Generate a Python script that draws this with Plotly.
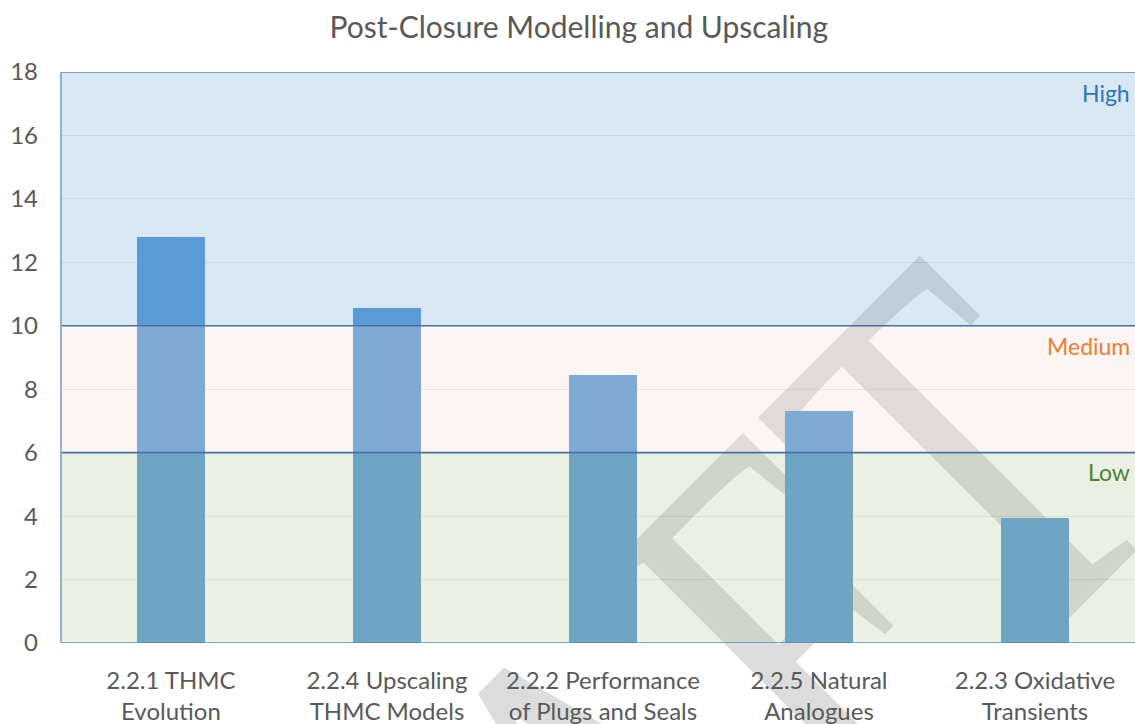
import base64
import plotly.graph_objects as go

# ---- data ----
categories = [
    "2.2.1 THMC<br>Evolution",
    "2.2.4 Upscaling<br>THMC Models",
    "2.2.2 Performance<br>of Plugs and Seals",
    "2.2.5 Natural<br>Analogues",
    "2.2.3 Oxidative<br>Transients",
]
scores = [12.8, 10.55, 8.45, 7.3, 3.95]
band_names = ["Low", "Medium", "High"]
band_lower = [0, 6, 10]
band_upper = [6, 10, 18]
band_label_pos = [5.4, 9.35, 17.35]
y_ticks = [0, 2, 4, 6, 8, 10, 12, 14, 16, 18]
title_text = "Post-Closure Modelling and Upscaling"
watermark_text = "DRAFT"

# ---- styles ----
FONT = "Lato"
TXT = "#595959"
BAR = "#5B9BD5"
band_fill = ["rgba(168,197,138,0.24)", "rgba(238,218,205,0.24)", "rgba(91,155,213,0.23)"]
band_layer = ["above", "above", "below"]
band_text_col = ["#548235", "#ED7D31", "#2E75B6"]

W, H = 1135, 724
L, T, B = 61, 72, 81
pw, ph = W - L, H - T - B

fig = go.Figure()
fig.add_trace(go.Bar(x=list(range(len(categories))), y=scores, width=0.315,
                     marker=dict(color=BAR, line=dict(width=0)), hoverinfo="y",
                     showlegend=False))

shapes = []
for i in range(len(band_names)):
    shapes.append(dict(type="rect", xref="paper", yref="y", x0=0, x1=1,
                       y0=band_lower[i], y1=band_upper[i], fillcolor=band_fill[i],
                       line=dict(width=0), layer=band_layer[i]))
for yv, col in [(band_upper[2], "#5A86B5"), (band_lower[2], "#4A72A0"),
                (band_lower[1], "#4A72A0"), (band_lower[0], "#5A8AC0")]:
    shapes.append(dict(type="line", xref="paper", yref="y", x0=0, x1=1, y0=yv, y1=yv,
                       line=dict(color=col, width=1.6), layer="above"))
shapes.append(dict(type="line", xref="paper", yref="y", x0=0, x1=0, y0=band_lower[0],
                   y1=band_upper[2], line=dict(color="#8FB1D6", width=2), layer="above"))

annotations = []
for i, name in enumerate(band_names):
    annotations.append(dict(text=name, xref="paper", yref="y", x=0.9975,
                            y=band_label_pos[i], xanchor="right", yanchor="middle",
                            showarrow=False,
                            font=dict(family=FONT, size=23, color=band_text_col[i])))

# watermark (behind bars) as an SVG layout image
svg = (f'<svg xmlns="http://www.w3.org/2000/svg" width="{W}" height="{H}" '
       f'viewBox="0 0 {W} {H}"><text transform="translate(259,1428) rotate(-45) '
       f'scale(0.72,1)" font-family="Liberation Serif" font-size="552" '
       f'fill="#DCDCDC">{watermark_text}</text></svg>')
src = "data:image/svg+xml;base64," + base64.b64encode(svg.encode()).decode()
images = [dict(source=src, xref="paper", yref="paper", x=-L / pw, y=1 + T / ph,
               sizex=W / pw, sizey=H / ph, xanchor="left", yanchor="top",
               sizing="stretch", layer="below")]

fig.update_layout(
    width=W, height=H,
    margin=dict(l=L, r=0, t=T, b=B, pad=0),
    paper_bgcolor="white", plot_bgcolor="white",
    title=dict(text=title_text, x=0.51, xanchor="center", y=0.962, yanchor="middle",
               font=dict(family=FONT, size=30, color=TXT)),
    shapes=shapes, annotations=annotations, images=images,
    xaxis=dict(range=[-0.509, 4.463], tickmode="array", tickvals=list(range(len(categories))),
               ticktext=categories, showgrid=False, zeroline=False, showline=False,
               ticks="", ticklabelstandoff=21,
               tickfont=dict(family=FONT, size=24, color=TXT)),
    yaxis=dict(range=[0, 18], tickmode="array", tickvals=y_ticks, showgrid=True,
               gridcolor="rgba(0,0,0,0.08)", gridwidth=1.3, zeroline=False,
               showline=False, ticks="", ticklabelstandoff=22,
               tickfont=dict(family=FONT, size=24, color=TXT)),
    bargap=0,
)

fig.write_html("out.html", config={"displayModeBar": False},
               post_script="document.body.style.margin='0';document.body.style.overflow='hidden';")
